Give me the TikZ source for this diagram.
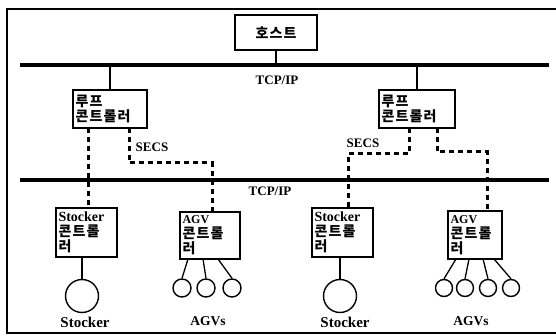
\documentclass[tikz,border=0pt]{standalone}
\usepackage{fontspec}
\setmainfont{Liberation Serif}
\newfontfamily\krfont{Noto Sans CJK KR Bold}[LetterSpace=8]
\usetikzlibrary{calc}
\newcommand{\kr}[1]{{\krfont\fontsize{14}{15}\selectfont #1}}

\begin{document}
\begin{tikzpicture}[
  x=1pt, y=-1pt,
  font=\bfseries\fontsize{13}{15}\selectfont,
  box/.style={draw, line width=1.6pt, anchor=north west, align=left,
              inner sep=2.5pt, outer sep=0pt},
  bus/.style={line width=3.2pt},
  wire/.style={line width=1.3pt},
  secs/.style={line width=3pt, dash pattern=on 5pt off 4pt},
  lbl/.style={inner sep=0pt},
  unit/.style={circle, draw, line width=1.4pt, inner sep=0pt},
]
\useasboundingbox (0,0) rectangle (556,336);

%% ---------- frame ----------
\draw[line width=2.6pt] (556,9) -- (7,9) -- (7,333) -- (556,333);

%% ---------- host and upper network ----------
\node[box, align=center, text width=77pt, minimum height=35pt] (host) at (235,15) {\kr{호스트}};
\coordinate (busAw) at (20,65);
\coordinate (busAe) at (549,65);
\draw[bus] (busAw) -- (busAe);
\draw[wire] (host.south) -- (host.south |- busAw);
\node[lbl] (tcpA) at (277,80) {TCP/IP};

%% ---------- loop controllers ----------
\node[box, text width=69pt, minimum height=38pt] (loopL) at (73,90) {\kr{루프}\\\kr{콘트롤러}};
\node[box, text width=71pt, minimum height=38pt] (loopR) at (379,90) {\kr{루프}\\\kr{콘트롤러}};
\draw[wire] (loopL.north |- busAw) -- (loopL.north);
\draw[wire] (loopR.north |- busAw) -- (loopR.north);

%% ---------- lower network ----------
\coordinate (busBw) at (20,180);
\coordinate (busBe) at (549,180);
\draw[bus] (busBw) -- (busBe);
\node[lbl] (tcpB) at (270,191) {TCP/IP};

%% ---------- equipment controllers ----------
\node[box, text width=56pt, minimum height=49pt] (stkL) at (56,208)
  {{\fontsize{14}{15}\selectfont Stocker}\\\kr{콘트롤}\\\kr{러}};
\node[box, text width=55pt, minimum height=47pt] (agvL) at (180,212)
  {{\fontsize{12}{15}\selectfont AGV}\\\kr{콘트롤}\\\kr{러}};
\node[box, text width=56pt, minimum height=49pt] (stkR) at (312,208)
  {{\fontsize{14}{15}\selectfont Stocker}\\\kr{콘트롤}\\\kr{러}};
\node[box, text width=49pt, minimum height=48pt] (agvR) at (448,211)
  {{\fontsize{12}{15}\selectfont AGV}\\\kr{콘트롤}\\\kr{러}};

\draw[wire] ($(stkL.north west)+(10,0)$ |- busBw) -- ($(stkL.north west)+(10,0)$);
\draw[wire] ($(agvL.north west)+(8,0)$ |- busBw) -- ($(agvL.north west)+(8,0)$);
\draw[wire] ($(stkR.north west)+(9,0)$ |- busBw) -- ($(stkR.north west)+(9,0)$);
\draw[wire] ($(agvR.north west)+(9,0)$ |- busBw) -- ($(agvR.north west)+(9,0)$);

%% ---------- SECS links (dashed) ----------
\draw[secs] ($(loopL.south west)+(15,0)$) -- ($(stkL.north west)+(32,0)$);
\draw[secs] ($(loopL.south west)+(56,0)$) -- ++(0,35) -| ($(agvL.north west)+(32,0)$);
\draw[secs] ($(loopR.south west)+(30,0)$) -- ++(0,26) -| ($(stkR.north west)+(36,0)$);
\draw[secs] ($(loopR.south west)+(58,0)$) -- ++(0,24) -| ($(agvR.north west)+(39,0)$);
\node[lbl] (secsL) at (152,147) {SECS};
\node[lbl] (secsR) at (363,143) {SECS};

%% ---------- stockers ----------
\node[unit, minimum size=33pt] (stkcL) at (82,296) {};
\node[unit, minimum size=33pt] (stkcR) at (340,296) {};
\draw[wire] (stkcL.north |- stkL.south) -- (stkcL.north);
\draw[wire] (stkcR.north |- stkR.south) -- (stkcR.north);

%% ---------- AGVs ----------
\foreach \i/\cx/\off in {1/182/8, 2/206/23, 3/232/38} {
  \node[unit, minimum size=18pt] (agvcL\i) at (\cx,288) {};
  \draw[wire] ($(agvL.south west)+(\off,0)$) -- (agvcL\i.north);
}
\foreach \i/\cx/\off in {1/444/8, 2/465/21, 3/488/35, 4/511/46} {
  \node[unit, minimum size=17pt] (agvcR\i) at (\cx,288) {};
  \draw[wire] ($(agvR.south west)+(\off,0)$) -- (agvcR\i.north);
}

%% ---------- captions ----------
\node[lbl, font=\bfseries\fontsize{15}{15}\selectfont] (capStkL) at (85,322) {Stocker};
\node[lbl, font=\bfseries\fontsize{13.5}{15}\selectfont] (capAgvL) at (208,321) {AGVs};
\node[lbl, font=\bfseries\fontsize{15}{15}\selectfont] (capStkR) at (345,322) {Stocker};
\node[lbl, font=\bfseries\fontsize{13.5}{15}\selectfont] (capAgvR) at (471,321) {AGVs};

\end{tikzpicture}
\end{document}
